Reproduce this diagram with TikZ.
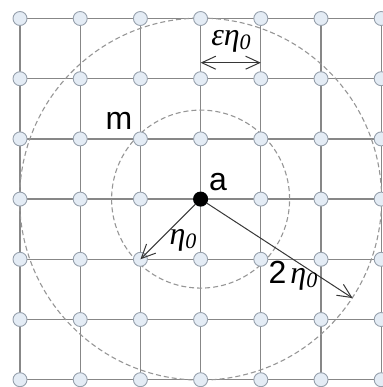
\documentclass[tikz,border=0pt]{standalone}
\usepackage{fontspec}
\setmainfont{Liberation Serif}
\setsansfont{Liberation Sans}
\usetikzlibrary{arrows.meta,calc,backgrounds}
\definecolor{lgLine}  {RGB}{135,135,135}
\definecolor{lgSite}  {RGB}{228,236,245}
\definecolor{lgSiteB} {RGB}{150,160,172}
\definecolor{lgRing}  {RGB}{150,150,150}
\definecolor{lgArrow} {RGB}{ 55, 55, 55}
\newcommand{\etaz}{{\itshape η\raisebox{-4pt}{\fontsize{22}{22}\selectfont 0}}}

\begin{document}
\begin{tikzpicture}[x=1pt,y=-1pt,
  >={Straight Barb[length=14pt,width=13pt]},
  site/.style={circle,draw=lgSiteB,fill=lgSite,line width=0.9pt,
               minimum size=14pt,inner sep=0pt},
  hub/.style ={circle,fill=black,minimum size=15pt,inner sep=0pt},
  ring/.style={draw=lgRing,line width=1.1pt,dash pattern=on 5pt off 3pt},
  vec/.style ={draw=lgArrow,line width=1pt},
  lbl/.style ={font=\fontsize{32}{32}\selectfont\sffamily,inner sep=0pt},
  sym/.style ={font=\fontsize{32}{32}\selectfont,inner sep=0pt}
]
\useasboundingbox (0,0) rectangle (382,387);
% lattice sites
\foreach \i in {0,...,6}
  \foreach \j in {0,...,6}
    \node[site] (n-\i-\j) at ({20+60.2*\i},{18.5+60.2*\j}) {};
\node[hub] (a) at (n-3-3) {};
% grid and rings behind the sites
\begin{scope}[on background layer]
  \foreach \i in {0,...,6} {
    \draw[lgLine,line width=1.3pt] (n-\i-0.center) -- (n-\i-6.center);
    \draw[lgLine,line width=1.3pt] (n-0-\i.center) -- (n-6-\i.center);
  }
  \draw[ring] (a.center) circle (89pt);
  \draw[ring] (a.center) circle (181pt);
\end{scope}
% arrows
\coordinate (rim) at ($(a.center)+(152,99)$);
\coordinate (e1) at ($(n-3-1)+(0,-16)$);
\coordinate (e2) at ($(n-4-1)+(0,-16)$);
\draw[vec,->] (a) -- (n-2-4.center);
\draw[vec,->] (a) -- (rim);
\draw[vec,<->] (e1) -- (e2);
% labels
\node[lbl] (m)  at (119,121) {m};
\node[lbl] (la) at (218,182) {a};
\node[sym] (ee) at (231,41)  {\itshape ε\etaz};
\node[sym] (e0) at (183,240) {\etaz};
\node[lbl] (e2l) at (293,276) {2\hspace{4pt}{\fontsize{32}{32}\selectfont\rmfamily\etaz}};
\end{tikzpicture}
\end{document}
